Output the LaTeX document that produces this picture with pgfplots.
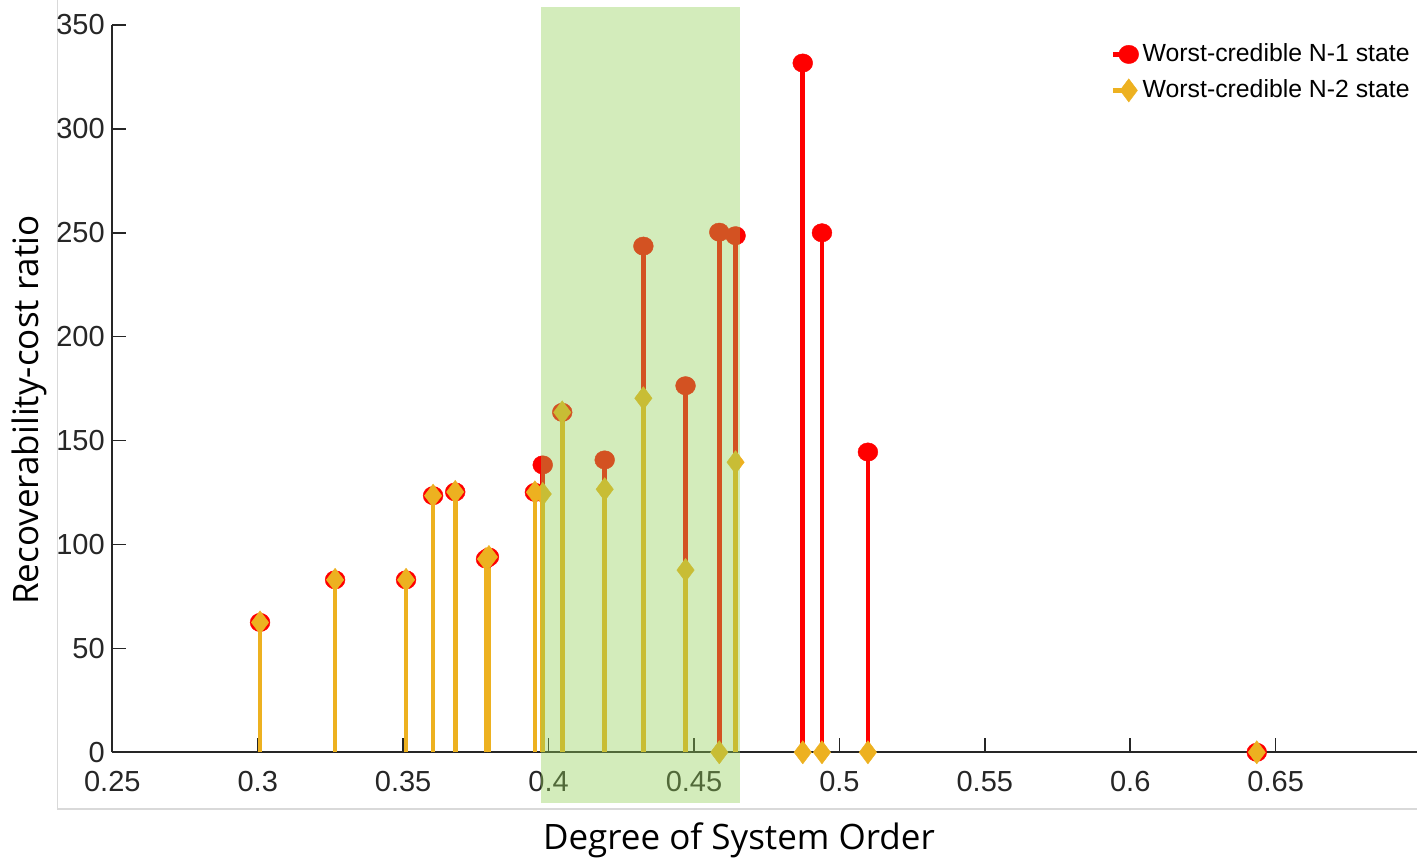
\documentclass[border=0pt]{standalone}
\usepackage{fontspec}
\setmainfont{Liberation Sans}
\newfontfamily\labelfont{Open Sans}
\usepackage{pgfplots}
\pgfplotsset{compat=1.18}
\definecolor{nonered}{RGB}{255,0,0}
\definecolor{ntwogold}{RGB}{237,177,32}
\definecolor{axisgrey}{RGB}{38,38,38}
\definecolor{bandgreen}{RGB}{146,207,86}
\definecolor{framegrey}{RGB}{217,217,217}

% worst-credible N-1 state
\pgfplotstableread{
x      y
0.3008 62.5
0.3266 83
0.3510 83
0.3603 123.5
0.3679 125.3
0.3785 93
0.3795 94
0.3953 125.1
0.3980 138.3
0.4047 163.6
0.4193 140.7
0.4326 243.6
0.4471 176.4
0.4587 250.3
0.4643 248.6
0.4874 331.7
0.4940 250
0.5098 144.5
0.6435 0
}\nonetab

% worst-credible N-2 state
\pgfplotstableread{
x      y
0.3008 62.5
0.3266 83
0.3510 83
0.3603 123.5
0.3679 125.3
0.3785 93
0.3795 94
0.3953 125.1
0.3980 124.3
0.4047 163.6
0.4193 126.6
0.4326 170.4
0.4471 87.7
0.4587 0
0.4643 139.6
0.4874 0
0.4940 0
0.5098 0
0.6435 0
}\ntwotab

\begin{document}
\begin{tikzpicture}
\path[use as bounding box] (-56.15pt,-54.35pt) rectangle (652.35pt,376.15pt);
\draw[framegrey, line width=0.6pt] (-27.5pt,376.15pt) -- (-27.5pt,-28.35pt) -- (652.35pt,-28.35pt);
\begin{axis}[
    scale only axis,
    width=652.35pt, height=363.65pt,
    xmin=0.25, xmax=0.6986,
    ymin=0, ymax=350,
    clip=false,
    axis x line=bottom, axis y line=left,
    axis line style={-, axisgrey, line width=1pt},
    tick style={axisgrey, line width=0.8pt},
    tick align=inside,
    major tick length=7pt,
    xtick={0.25,0.3,0.35,0.4,0.45,0.5,0.55,0.6,0.65},
    ytick={0,50,100,150,200,250,300,350},
    xticklabels={0.25,0.3,0.35,0.4,0.45,0.5,0.55,0.6,0.65},
    /pgf/number format/assume math mode=true,
    ticklabel style={font=\fontsize{14.5}{16}\selectfont, text=axisgrey, inner sep=0pt},
    xticklabel style={yshift=-9.2pt},
    yticklabel style={xshift=-3.6pt},
    xlabel={Degree of System Order},
    ylabel={Recoverability-cost ratio},
    label style={font=\labelfont\fontsize{17.5}{20}\selectfont, text=black},
    xlabel style={at={(axis description cs:0.4803,-0.1343)}, anchor=base},
    ylabel style={at={(axis description cs:-0.05695,0.4706)}, anchor=base},
    legend style={draw=none, fill=none, at={(axis description cs:0.9977,0.980)},
        anchor=north east, inner sep=0pt, row sep=3.5pt,
        font=\fontsize{12.4}{14}\selectfont, cells={anchor=west}},
    legend image code/.code={\draw[#1,sharp plot,mark repeat=2,mark phase=2] plot coordinates {(0pt,0pt) (8pt,0pt)};},
]
\addplot[ycomb, nonered, line width=2.3pt, mark=*, mark size=4.6pt,
    mark options={fill=nonered, draw=nonered, line width=0.2pt, xscale=1.08}]
    table[x=x, y=y] {\nonetab};
\addlegendentry{Worst-credible N-1 state}
\addplot[ycomb, ntwogold, line width=2.3pt, mark=diamond*, mark size=5.8pt,
    mark options={fill=ntwogold, draw=ntwogold, line width=0.2pt}]
    table[x=x, y=y] {\ntwotab};
\addlegendentry{Worst-credible N-2 state}
\coordinate (bandA) at (axis cs:0.3974,-24.4);
\coordinate (bandB) at (axis cs:0.4658,358.7);
\end{axis}
\fill[bandgreen, fill opacity=0.4] (bandA) rectangle (bandB);
\end{tikzpicture}
\end{document}
